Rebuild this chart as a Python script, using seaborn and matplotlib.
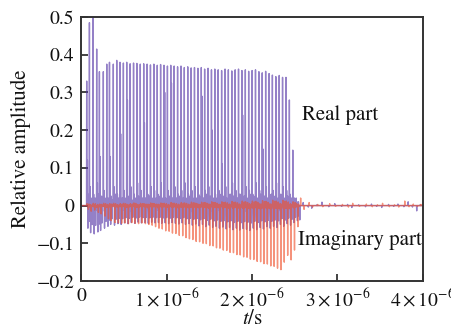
import numpy as np
import pandas as pd
import matplotlib
matplotlib.use("Agg")
import matplotlib.pyplot as plt
import seaborn as sns

# ---- pulse train (times in microseconds) ----
pulse_t = [0.063, 0.095, 0.137, 0.180, 0.212, 0.258, 0.298, 0.330, 0.375, 0.415, 0.453,
           0.493, 0.532, 0.572, 0.612, 0.651, 0.691, 0.731, 0.771, 0.810, 0.850,
           0.890, 0.929, 0.969, 1.009, 1.048, 1.088, 1.128, 1.168, 1.207, 1.247,
           1.287, 1.326, 1.366, 1.406, 1.445, 1.485, 1.525, 1.564, 1.604, 1.644,
           1.684, 1.723, 1.763, 1.803, 1.842, 1.882, 1.922, 1.961, 2.001, 2.041,
           2.081, 2.120, 2.160, 2.200, 2.239, 2.279, 2.319, 2.358, 2.398, 2.438,
           2.478, 2.518]

real_peak = [0.330, 0.485, 0.520, 0.415, 0.355, 0.355, 0.375, 0.380, 0.375, 0.385, 0.380,
             0.378, 0.380, 0.376, 0.378, 0.377, 0.375, 0.376, 0.375, 0.373, 0.375,
             0.372, 0.374, 0.372, 0.370, 0.372, 0.370, 0.368, 0.370, 0.366, 0.368,
             0.365, 0.366, 0.364, 0.366, 0.362, 0.364, 0.360, 0.362, 0.360, 0.358,
             0.362, 0.360, 0.357, 0.360, 0.362, 0.358, 0.360, 0.356, 0.358, 0.360,
             0.355, 0.352, 0.356, 0.350, 0.346, 0.342, 0.345, 0.340, 0.340, 0.280,
             0.147, 0.020]

real_inner = [0.12, 0.05, 0.03, 0.06, 0.13, 0.04, 0.02, 0.13, 0.05, 0.03, 0.19,
              0.04, 0.28, 0.05, 0.03, 0.06, 0.04, 0.22, 0.03, 0.05, 0.04,
              0.03, 0.06, 0.30, 0.04, 0.325, 0.05, 0.03, 0.04, 0.06, 0.03,
              0.04, 0.05, 0.03, 0.29, 0.04, 0.05, 0.20, 0.03, 0.04, 0.11,
              0.05, 0.03, 0.06, 0.04, 0.03, 0.24, 0.05, 0.04, 0.03, 0.06,
              0.04, 0.15, 0.05, 0.03, 0.04, 0.06, 0.03, 0.05, 0.04, 0.03,
              0.02, 0.01]

real_dip = [-0.060, -0.072, -0.075, -0.070, -0.066, -0.060, -0.055, -0.050, -0.052, -0.048, -0.050,
            -0.046, -0.048, -0.045, -0.047, -0.044, -0.046, -0.045, -0.047, -0.044, -0.046,
            -0.045, -0.047, -0.046, -0.048, -0.045, -0.047, -0.049, -0.046, -0.050, -0.048,
            -0.052, -0.049, -0.054, -0.050, -0.056, -0.052, -0.058, -0.055, -0.060, -0.057,
            -0.062, -0.058, -0.064, -0.060, -0.065, -0.061, -0.063, -0.066, -0.060, -0.064,
            -0.058, -0.062, -0.056, -0.060, -0.055, -0.058, -0.050, -0.055, -0.048, -0.052,
            -0.045, -0.040]

real_ripple = [0.03, -0.02, 0.02, -0.03, 0.025, -0.02, 0.02, -0.025, 0.03, -0.02, 0.02,
               -0.02, 0.025, -0.015, 0.02, -0.025, 0.02, -0.02, 0.025, -0.02, 0.02,
               -0.025, 0.02, -0.02, 0.025, -0.02, 0.02, -0.025, 0.02, -0.02, 0.025,
               -0.02, 0.02, -0.025, 0.02, -0.03, 0.025, -0.02, 0.02, -0.03, 0.025,
               -0.02, 0.03, -0.025, 0.02, -0.03, 0.025, -0.02, 0.03, -0.025, 0.02,
               -0.03, 0.025, -0.02, 0.03, -0.025, 0.02, -0.03, 0.02, -0.025, 0.02,
               -0.02, 0.01]

imag_peak = [-0.010, -0.015, -0.012, -0.018, -0.022, -0.028, -0.035, -0.040, -0.045, -0.046, -0.047,
             -0.046, -0.048, -0.045, -0.047, -0.048, -0.046, -0.048, -0.050, -0.052, -0.056,
             -0.060, -0.062, -0.067, -0.068, -0.073, -0.074, -0.079, -0.080, -0.085, -0.088,
             -0.090, -0.095, -0.096, -0.100, -0.101, -0.106, -0.107, -0.112, -0.113, -0.118,
             -0.119, -0.124, -0.125, -0.130, -0.131, -0.136, -0.137, -0.142, -0.143, -0.148,
             -0.149, -0.154, -0.155, -0.160, -0.161, -0.166, -0.170, -0.150, -0.132, -0.144,
             -0.118, -0.056]

imag_ripple = [0.005, -0.004, 0.006, -0.005, 0.004, 0.006, -0.005, 0.005, 0.006, -0.004, 0.005,
               0.006, -0.005, 0.005, 0.007, -0.005, 0.006, 0.005, -0.006, 0.007, 0.005,
               -0.006, 0.007, 0.006, -0.005, 0.008, 0.006, -0.006, 0.008, 0.007, -0.006,
               0.009, 0.007, -0.006, 0.009, 0.008, -0.007, 0.010, 0.008, -0.006, 0.010,
               0.009, -0.007, 0.011, 0.009, -0.007, 0.012, 0.010, -0.008, 0.012, 0.011,
               -0.008, 0.013, 0.011, -0.008, 0.014, 0.012, -0.009, 0.014, 0.012, -0.008,
               0.010, 0.005]

# ---- quiet tail after the pulse train ----
tail_t = [2.56, 2.60, 2.66, 2.70, 2.76, 2.82, 2.90, 2.97, 3.05, 3.12, 3.17, 3.25,
          3.33, 3.40, 3.46, 3.52, 3.60, 3.66, 3.71, 3.78, 3.83, 3.88, 3.93, 3.97]
tail_real = [-0.038, 0.008, -0.004, -0.007, 0.002, 0.009, -0.003, 0.005, -0.002, 0.003, -0.005, 0.002,
             -0.003, 0.004, -0.002, -0.005, 0.003, -0.002, 0.004, -0.003, 0.010, -0.004, -0.014, 0.002]
tail_imag = [0.020, -0.010, 0.008, -0.004, 0.003, -0.003, 0.005, -0.002, 0.003, -0.004, 0.006, -0.002,
             0.004, -0.003, 0.002, 0.006, -0.003, 0.002, -0.004, 0.012, -0.003, 0.004, -0.002, 0.003]

x_ticks = [0, 1e-6, 2e-6, 3e-6, 4e-6]
x_tick_labels = ["0", r"$1\times10^{-6}$", r"$2\times10^{-6}$", r"$3\times10^{-6}$", r"$4\times10^{-6}$"]
y_ticks = [-0.2, -0.1, 0, 0.1, 0.2, 0.3, 0.4, 0.5]
y_tick_labels = ["\u22120.2", "\u22120.1", "0", "0.1", "0.2", "0.3", "0.4", "0.5"]


def spike_trace(events, half_width=0.002):
    """Turn (time, value) events into a line that returns to zero between spikes."""
    events = sorted(events)
    t, v = [0.0], [0.0]
    for ti, vi in events:
        t += [ti - half_width, ti, ti + half_width]
        v += [0.0, vi, 0.0]
    t.append(3.995)
    v.append(0.0)
    return pd.DataFrame({"t": np.array(t) * 1e-6, "amp": v})


real_events = []
imag_events = []
for k, tk in enumerate(pulse_t):
    r = real_ripple[k]
    real_events += [(tk, real_peak[k]), (tk + 0.008, real_inner[k]),
                    (tk + 0.014, real_dip[k]), (tk + 0.020, -r),
                    (tk + 0.026, r), (tk + 0.031, 0.7 * real_dip[k]),
                    (tk + 0.036, -0.6 * r)]
    q = imag_ripple[k]
    imag_events += [(tk + 0.004, q), (tk + 0.011, -0.6 * q), (tk + 0.020, imag_peak[k]),
                    (tk + 0.027, 0.8 * q), (tk + 0.034, -0.5 * q)]
real_events += list(zip(tail_t, tail_real))
imag_events += [(ti + 0.01, vi) for ti, vi in zip(tail_t, tail_imag)]

real_df = spike_trace(real_events)
imag_df = spike_trace(imag_events)

sns.set_theme(style="white")
plt.rcParams["font.family"] = ["STIXGeneral", "DejaVu Serif"]
plt.rcParams["mathtext.fontset"] = "stix"

fig = plt.figure(figsize=(4.51, 3.29), dpi=100)
ax = fig.add_axes([0.1803, 0.1459, 0.7569, 0.8024])

sns.lineplot(data=real_df, x="t", y="amp", sort=False, estimator=None,
             color="#5233a6", alpha=0.62, linewidth=1.0, ax=ax)
sns.lineplot(data=imag_df, x="t", y="amp", sort=False, estimator=None,
             color="#f0502a", alpha=0.62, linewidth=1.0, ax=ax)

ax.set_xlim(0, 4e-6)
ax.set_ylim(-0.2, 0.5)
ax.set_xticks(x_ticks)
ax.set_xticklabels(x_tick_labels, fontsize=14)
ax.set_yticks(y_ticks)
ax.set_yticklabels(y_tick_labels, fontsize=14)
ax.tick_params(axis="both", direction="in", length=5, width=1.2, color="#222222",
               pad=5, labelcolor="#111111")
ax.tick_params(top=False, right=False)
ax.tick_params(axis="x", bottom=True)
ax.tick_params(axis="y", left=True)

for side in ["left", "bottom", "top", "right"]:
    ax.spines[side].set_visible(True)
    ax.spines[side].set_color("#333333")
    ax.spines[side].set_linewidth(1.4)

ax.set_xlabel(r"$t$/s", fontsize=15, color="#111111", labelpad=-1)
ax.set_ylabel("Relative amplitude", fontsize=15, color="#111111", labelpad=4)

ax.text(2.586e-6, 0.24, "Real part", fontsize=15, color="#111111",
        ha="left", va="center")
ax.text(2.535e-6, -0.091, "Imaginary part", fontsize=15, color="#111111",
        ha="left", va="center")

fig.savefig("out.png", dpi=100)
